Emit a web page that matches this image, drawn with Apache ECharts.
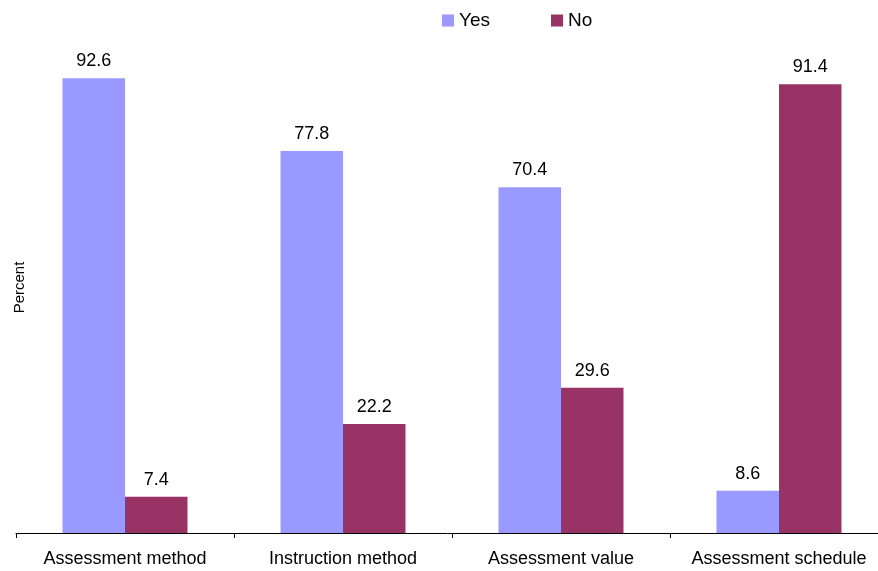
<!DOCTYPE html>
<html>
<head>
<meta charset="utf-8">
<script src="https://cdn.jsdelivr.net/npm/echarts@6/dist/echarts.min.js"></script>
<style>
  html, body { margin: 0; padding: 0; background: #fff; }
  #chart { width: 878px; height: 571px; }
</style>
</head>
<body>
<div id="chart"></div>
<script>
// Survey responses (percent) per item
const categories = ['Assessment method', 'Instruction method', 'Assessment value', 'Assessment schedule'];
const yesValues = [92.6, 77.8, 70.4, 8.6];
const noValues = [7.4, 22.2, 29.6, 91.4];

const FONT = '"Liberation Sans", Arial, sans-serif';

const labelStyle = {
  show: true,
  position: 'top',
  distance: 8,
  color: '#000',
  fontSize: 18,
  fontFamily: FONT,
  formatter: p => p.value.toFixed(1)
};

const chart = echarts.init(document.getElementById('chart'), null, { renderer: 'canvas' });
chart.setOption({
  animation: false,
  backgroundColor: '#fff',
  legend: {
    top: 6,
    left: 437,
    itemWidth: 12,
    itemHeight: 12,
    itemGap: 61,
    icon: 'rect',
    textStyle: { fontSize: 19, fontFamily: FONT, color: '#000' },
    data: ['Yes', 'No']
  },
  grid: { left: 16, top: 42, width: 872, height: 491, containLabel: false, outerBoundsMode: 'none' },
  xAxis: {
    type: 'category',
    data: categories,
    axisLine: { show: true, lineStyle: { color: '#000', width: 1 } },
    axisTick: { show: true, interval: 0, length: 5, lineStyle: { color: '#000' } },
    axisLabel: { interval: 0, hideOverlap: false, color: '#000', fontSize: 18, fontFamily: FONT, margin: 17 }
  },
  yAxis: {
    type: 'value',
    min: 0,
    max: 100,
    name: 'Percent',
    nameLocation: 'middle',
    nameRotate: 90,
    nameGap: -11,
    nameTextStyle: { fontSize: 15, fontFamily: FONT, color: '#000' },
    axisLine: { show: false },
    axisTick: { show: false },
    axisLabel: { show: false },
    splitLine: { show: false }
  },
  series: [
    {
      name: 'Yes',
      type: 'bar',
      data: yesValues,
      barWidth: 62.5,
      barGap: '0%',
      itemStyle: { color: '#9999ff' },
      label: labelStyle
    },
    {
      name: 'No',
      type: 'bar',
      data: noValues,
      barWidth: 62.5,
      barGap: '0%',
      itemStyle: { color: '#993366' },
      label: labelStyle
    }
  ]
});
</script>
</body>
</html>
